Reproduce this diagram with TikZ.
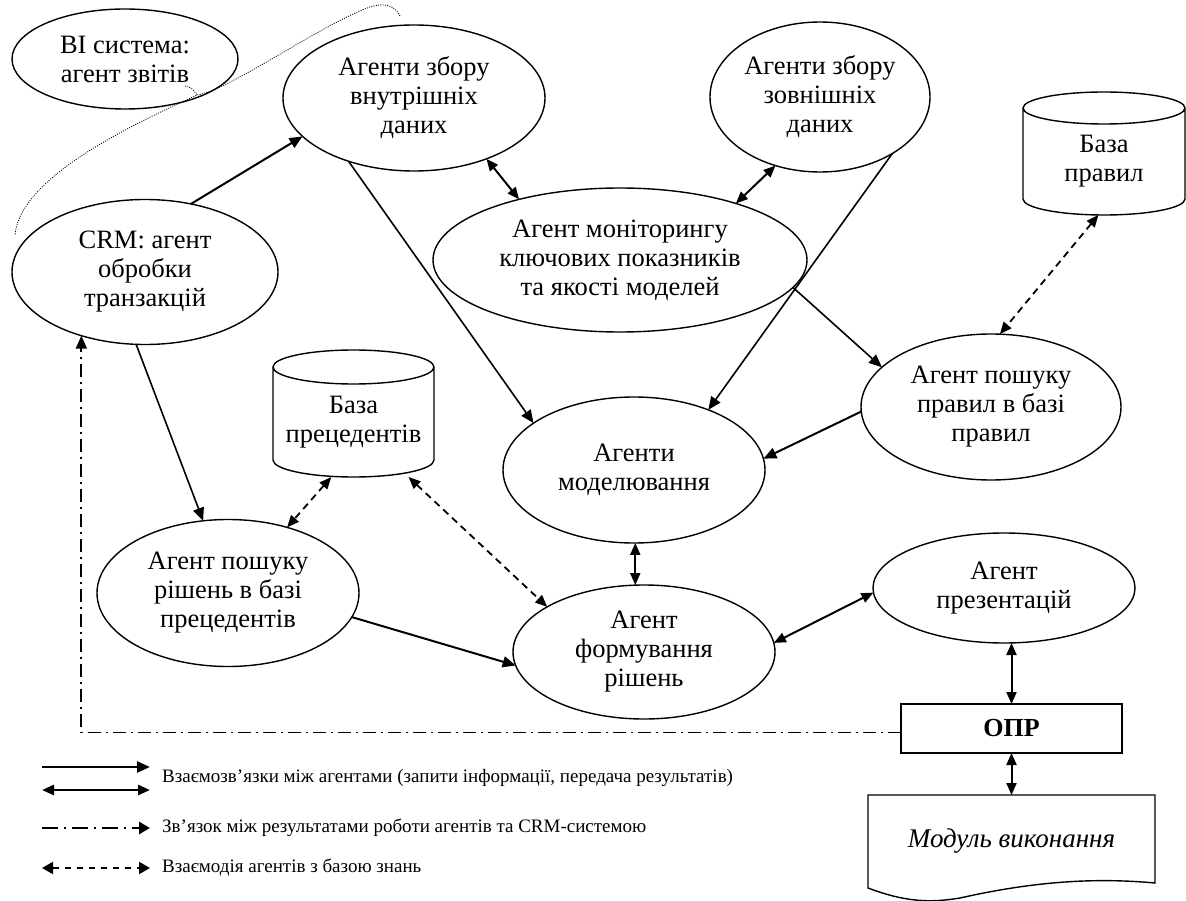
\documentclass[tikz,border=0pt]{standalone}
\usepackage{fontspec}
\setmainfont{Liberation Serif}
\usetikzlibrary{shapes.geometric,arrows.meta,calc}
\begin{document}
\begin{tikzpicture}[x=1pt,y=-1pt,
  ell/.style={draw, ellipse, line width=1.4pt, inner sep=0pt, outer sep=0pt, align=center,
    font=\fontsize{26.5}{29}\selectfont},
  box/.style={rectangle, inner sep=0pt, outer sep=0pt, align=center,
    font=\fontsize{26.5}{29}\selectfont},
  shp/.style={line width=1.4pt},
  con/.style={line width=1.6pt},
  thk/.style={line width=2pt},
  arr/.style={-{Triangle[length=13pt,width=11pt]}},
  darr/.style={{Triangle[length=12pt,width=10pt]}-{Triangle[length=12pt,width=10pt]}},
  dsh/.style={dash pattern=on 7pt off 5pt, line width=1.8pt},
  ddot/.style={dash pattern=on 13pt off 5pt on 2pt off 5pt, line width=1.8pt},
  leg/.style={anchor=west, inner sep=0pt, font=\fontsize{19}{22}\selectfont}
]
\useasboundingbox (0,0) rectangle (1186,901);

% ---- nodes ----
\node[ell, minimum width=226pt, minimum height=100pt] (BI) at (125,59) {BI система:\\агент звітів};
\node[ell, minimum width=262pt, minimum height=146pt] (VN) at (414,98) {Агенти збору\\внутрішніх\\даних};
\node[ell, minimum width=220pt, minimum height=150pt] (ZN) at (820,97) {Агенти збору\\зовнішніх\\даних};
\node[ell, minimum width=374pt, minimum height=144pt] (MON) at (620,260) {Агент моніторингу\\ключових показників\\та якості моделей};
\node[ell, minimum width=266pt, minimum height=145pt] (CRM) at (145,272) {CRM: агент\\обробки\\транзакцій};
\node[box, minimum width=162pt, minimum height=107pt] (BR) at (1104,161.5) {База\\правил};
\node[ell, minimum width=260pt, minimum height=146pt] (PR) at (991,407) {Агент пошуку\\правил в базі\\правил};
\node[box, minimum width=161pt, minimum height=110pt] (BP) at (353.5,422) {База\\прецедентів};
\node[ell, minimum width=262pt, minimum height=146pt] (MOD) at (634,470) {Агенти\\моделювання};
\node[ell, minimum width=262pt, minimum height=147pt] (PS) at (228,593) {Агент пошуку\\рішень в базі\\прецедентів};
\node[ell, minimum width=262pt, minimum height=134pt] (FR) at (644,652) {Агент\\формування\\рішень};
\node[ell, minimum width=262pt, minimum height=110pt] (PRZ) at (1004,588) {Агент\\презентацій};
\node[box, draw, line width=1.4pt, minimum width=221pt, minimum height=49pt] (OPR) at (1011.5,728.5) {\fontsize{26}{30}\selectfont\bfseries ОПР};
\node[box, minimum width=287pt, minimum height=93pt] (MV) at (1011.5,841.5) {\fontsize{27}{30}\selectfont\itshape Модуль виконання};

% ---- cylinders ----
\draw[shp] let \p1=(BR.north west), \p2=(BR.south east), \n1={(\x2-\x1)/2} in
  (\x1,\y1) -- (\x1,\y2+16pt) arc[start angle=180,end angle=360,x radius=\n1,y radius=16pt]
  -- (\x2,\y1) arc[start angle=0,end angle=360,x radius=\n1,y radius=16pt];
\draw[shp] let \p1=(BP.north west), \p2=(BP.south east), \n1={(\x2-\x1)/2} in
  (\x1,\y1) -- (\x1,\y2+17pt) arc[start angle=180,end angle=360,x radius=\n1,y radius=17pt]
  -- (\x2,\y1) arc[start angle=0,end angle=360,x radius=\n1,y radius=17pt];

% ---- document shape ----
\draw[shp] (MV.south west) -- (MV.north west) -- (MV.north east) -- ($(MV.south east)+(0,-5)$)
  .. controls (1100,878) and (1040,880) .. (960,898)
  .. controls (930,903) and (905,902) .. (MV.south west) -- cycle;

% ---- connectors ----
\draw[thk,arr] (CRM.56.3) -- (VN.-161.7);
\draw[con,arr] (VN.-136.8) -- (MOD.155.6);
\draw[thk,darr] (VN.-40) -- (MON.149.9);
\draw[thk,darr] (ZN.-123.7) -- (MON.26.8);
\draw[con,arr] (ZN.-38) -- (MOD.39.1);
\draw[con,arr] (MON.-9) -- (PR.160.6);
\draw[thk,arr] (PR.182.7) -- (MOD.5.6);
\draw[dsh,darr] (BR.-96.2) -- (PR.83);
\draw[con,arr] (CRM.-97.8) -- (PS.109.6);
\draw[dsh,darr] (BP.-112.8) -- (PS.48.8);
\draw[dsh,darr] (BP.-45.3) -- (FR.155.3);
\draw[thk,darr] (MOD.-89) -- (FR.north -| MOD.-89);
\draw[thk,arr] (PS.-11) -- (FR.-174.4);
\draw[thk,darr] (FR.4.4) -- (PRZ.182);
\draw[thk,darr] (PRZ.south -| OPR.north) -- (OPR.north);
\draw[thk,darr] (OPR.south) -- (MV.north);
\draw[ddot,arr] ($(OPR.west)+(0,4)$) -| (CRM.-135.2);

% ---- dotted lasso ----
\draw[line width=0.8pt, dash pattern=on 1pt off 1.3pt]
  (400,16) .. controls (395,6) and (385,2) .. (370,7)
  .. controls (320,25) and (230,90) .. (197,95)
  .. controls (120,130) and (20,180) .. (15,235);
\draw[line width=0.8pt, dash pattern=on 1pt off 1.3pt] (185,86) .. controls (192,88) .. (197,95);

% ---- legend ----
\coordinate (l1a) at (42,767); \coordinate (l1b) at (150,767);
\coordinate (l2a) at (42,790); \coordinate (l2b) at (150,790);
\coordinate (l3a) at (42,828); \coordinate (l3b) at (150,828);
\coordinate (l4a) at (42,868); \coordinate (l4b) at (150,868);
\draw[line width=2.6pt,arr] (l1a) -- (l1b);
\draw[line width=2.6pt,darr] (l2a) -- (l2b);
\draw[line width=2.6pt,-{Triangle[length=11pt,width=12pt]}, dash pattern=on 16pt off 6pt on 2pt off 6pt] (l3a) -- (l3b);
\draw[line width=2pt,{Triangle[length=11pt,width=12pt]}-{Triangle[length=11pt,width=12pt]}, dash pattern=on 6pt off 6pt] (l4a) -- (l4b);
\node[leg] (t1) at (162,778) {Взаємозв’язки між агентами (запити інформації, передача результатів)};
\node[leg] (t3) at (162,828) {Зв’язок між результатами роботи агентів та CRM-системою};
\node[leg] (t4) at (162,868) {Взаємодія агентів з базою знань};
\end{tikzpicture}
\end{document}
